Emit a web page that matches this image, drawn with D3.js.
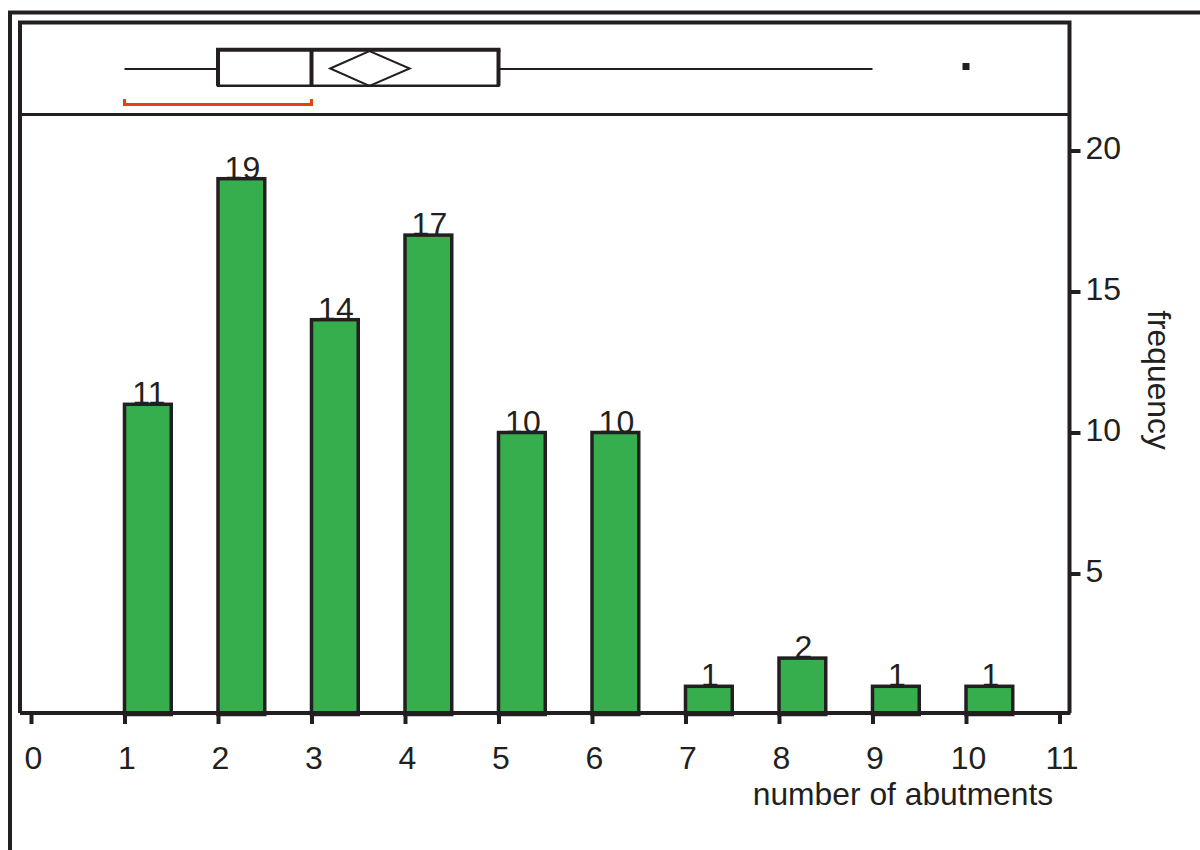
<!DOCTYPE html>
<html>
<head>
<meta charset="utf-8">
<script src="https://cdn.jsdelivr.net/npm/d3@7"></script>
<style>
  html, body { margin: 0; padding: 0; background: #fff; }
  svg { display: block; }
  text { font-family: "Liberation Sans", Arial, Helvetica, sans-serif; fill: #231f20; }
</style>
</head>
<body>
<svg id="chart" width="1200" height="850"></svg>
<script>
// Histogram of abutment counts with an outlier box plot on top
const abutments = [1, 2, 3, 4, 5, 6, 7, 8, 9, 10];
const frequency = [11, 19, 14, 17, 10, 10, 1, 2, 1, 1];
const xTickValues = [0, 1, 2, 3, 4, 5, 6, 7, 8, 9, 10, 11];
const yTickValues = [5, 10, 15, 20];

// Box plot summary
const whiskers = [1, 9];
const quartiles = [2, 3, 5];          // Q1, median, Q3
const outliers = [10];
const meanValue = [3.62];
const meanCI = [3.2, 4.05];
const shortestHalf = [1, 3];

const ink = "#231f20";
const barFill = "#37ae4d";
const bracketColor = "#e8410e";
const numSize = 32, titleSize = 31.8;

const svg = d3.select("#chart");

const x = d3.scaleLinear().domain([0, 11]).range([31, 1059.5]);
const y = d3.scaleLinear().domain([0, 20]).range([714.5, 150.5]);

// frame lines
const frameLeft = 20, frameRight = 1069.5, frameTop = 22.5, axisY = 713, splitY = 114.5;
svg.append("path")
  .attr("d", `M10,850 V12.5 H1200`)
  .attr("fill", "none").attr("stroke", ink).attr("stroke-width", 4);
svg.append("path")
  .attr("d", `M${frameLeft},${axisY} V${frameTop} H${frameRight} V${axisY}`)
  .attr("fill", "none").attr("stroke", ink).attr("stroke-width", 4);
svg.append("line")
  .attr("x1", frameLeft).attr("x2", frameRight).attr("y1", splitY).attr("y2", splitY)
  .attr("stroke", ink).attr("stroke-width", 3);

// ---- box plot panel ----
const bp = svg.append("g");
const midY = 69, boxTop = 49.7, boxBot = 85.8;

// whiskers
bp.append("line").attr("x1", x(whiskers[0])).attr("x2", x(quartiles[0]))
  .attr("y1", midY).attr("y2", midY).attr("stroke", ink).attr("stroke-width", 2);
bp.append("line").attr("x1", x(quartiles[2])).attr("x2", x(whiskers[1]))
  .attr("y1", midY).attr("y2", midY).attr("stroke", ink).attr("stroke-width", 2);

// box
bp.append("line").attr("x1", x(quartiles[0])).attr("x2", x(quartiles[2]))
  .attr("y1", boxTop).attr("y2", boxTop).attr("stroke", ink).attr("stroke-width", 4)
  .attr("stroke-linecap", "square");
bp.append("line").attr("x1", x(quartiles[0])).attr("x2", x(quartiles[2]))
  .attr("y1", boxBot).attr("y2", boxBot).attr("stroke", ink).attr("stroke-width", 2.5)
  .attr("stroke-linecap", "square");
[quartiles[0], quartiles[1], quartiles[2]].forEach(v => {
  bp.append("line").attr("x1", x(v)).attr("x2", x(v))
    .attr("y1", boxTop).attr("y2", boxBot).attr("stroke", ink).attr("stroke-width", 4);
});

// mean diamond
const dTop = 51, dBot = 86, dMid = (dTop + dBot) / 2;
bp.append("path")
  .attr("d", `M${x(meanCI[0])},${dMid} L${x(meanValue[0])},${dTop} L${x(meanCI[1])},${dMid} L${x(meanValue[0])},${dBot} Z`)
  .attr("fill", "none").attr("stroke", ink).attr("stroke-width", 2);

// outliers
bp.selectAll("rect.outlier").data(outliers).join("rect")
  .attr("class", "outlier")
  .attr("x", d => x(d) - 3.5).attr("y", 63)
  .attr("width", 7).attr("height", 7).attr("fill", ink);

// shortest half bracket
const brY = 104.5;
bp.append("path")
  .attr("d", `M${x(shortestHalf[0])},99 V${brY} H${x(shortestHalf[1])} V99`)
  .attr("fill", "none").attr("stroke", bracketColor).attr("stroke-width", 3);

// ---- histogram ----
const rows = abutments.map((a, i) => ({ a, n: frequency[i] }));
const binFrac = 0.5;

// value labels sit on the bar outline
svg.selectAll("text.count").data(rows).join("text")
  .attr("class", "count")
  .attr("x", d => (x(d.a) + x(d.a + binFrac)) / 2 + 1)
  .attr("y", d => y(d.n))
  .attr("text-anchor", "middle")
  .attr("font-size", numSize)
  .text(d => d.n);

svg.selectAll("rect.bar").data(rows).join("rect")
  .attr("class", "bar")
  .attr("x", d => x(d.a))
  .attr("y", d => y(d.n))
  .attr("width", d => x(d.a + binFrac) - x(d.a))
  .attr("height", d => y(0) - y(d.n))
  .attr("fill", barFill)
  .attr("stroke", ink)
  .attr("stroke-width", 3.5);

// x axis
const xAxis = svg.append("g")
  .attr("transform", `translate(0,${axisY})`)
  .call(d3.axisBottom(x).tickValues(xTickValues).tickFormat(d3.format("d"))
    .tickSize(11).tickSizeOuter(0).tickPadding(22.5));
xAxis.select(".domain").remove();
xAxis.selectAll(".tick line").attr("stroke", ink).attr("stroke-width", 4);
xAxis.selectAll(".tick text").attr("font-size", numSize).attr("font-family", null)
  .attr("fill", ink).attr("dx", 2);
svg.append("line").attr("x1", frameLeft).attr("x2", frameRight + 1)
  .attr("y1", axisY).attr("y2", axisY).attr("stroke", ink).attr("stroke-width", 4);

// y axis on the right
const yAxis = svg.append("g")
  .attr("transform", `translate(${frameRight},0)`)
  .call(d3.axisRight(y).tickValues(yTickValues).tickFormat(d3.format("d"))
    .tickSize(11).tickSizeOuter(0).tickPadding(5));
yAxis.select(".domain").remove();
yAxis.selectAll(".tick line").attr("stroke", ink).attr("stroke-width", 4);
yAxis.selectAll(".tick text").attr("font-size", numSize).attr("font-family", null)
  .attr("fill", ink).attr("dy", "0.25em");

// axis titles
svg.append("text")
  .attr("x", 903).attr("y", 805)
  .attr("text-anchor", "middle")
  .attr("font-size", titleSize)
  .text("number of abutments");

svg.append("text")
  .attr("transform", "translate(1148,380) rotate(90)")
  .attr("text-anchor", "middle")
  .attr("font-size", titleSize)
  .text("frequency");
</script>
</body>
</html>
